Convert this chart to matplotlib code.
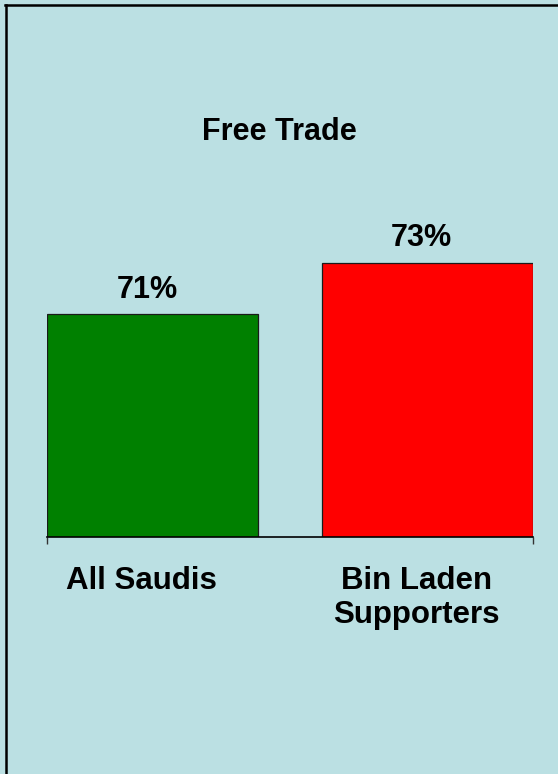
import matplotlib
matplotlib.use("Agg")
import matplotlib.pyplot as plt
from matplotlib.lines import Line2D
import matplotlib.transforms as mtransforms

categories = ["All Saudis", "Bin Laden\nSupporters"]
values = [71, 73]
value_labels = ["71%", "73%"]
colors = ["#008000", "#FF0000"]
title = "Free Trade"

W, H = 558, 774
bg = "#BBE0E3"
plt.rcParams['font.family'] = ['Liberation Sans', 'DejaVu Sans']

fig = plt.figure(figsize=(W / 100, H / 100), dpi=100, facecolor=bg)
ax = fig.add_axes([47 / W, (H - 537) / H, (533 - 47) / W, (537 - 211) / H])
ax.set_facecolor(bg)

x = list(range(len(categories)))
width = 0.77
bars = ax.bar(x, values, width=width, color=colors, edgecolor="#1a1a1a", linewidth=0.9, zorder=2)
ax.set_xlim(-width / 2, len(categories) - 1 + width / 2)
ax.set_ylim(62.37, 75)

for b, lab in zip(bars, value_labels):
    ax.annotate(lab, (b.get_x() + b.get_width() / 2, b.get_height()),
                xytext=(-4, 7), textcoords="offset points", ha="center", va="bottom",
                fontsize=22, fontweight="bold", color="black")

for s in ["top", "left", "right"]:
    ax.spines[s].set_visible(False)
ax.spines["bottom"].set_linewidth(1.2)
ax.spines["bottom"].set_zorder(3)
ax.set_yticks([])
ax.set_xticks(x)
ax.set_xticklabels(categories, fontsize=22.5, fontweight="bold", linespacing=1.15)
ax.tick_params(axis="x", which="major", length=0, pad=21)
ax.set_xticks([-width / 2, len(categories) - 1 + width / 2], minor=True)
ax.tick_params(axis="x", which="minor", length=5, width=1.0, direction="out", color="#333333")
offset = mtransforms.ScaledTranslation(-11 / 100, 0, fig.dpi_scale_trans)
for t in ax.get_xticklabels():
    t.set_transform(t.get_transform() + offset)

fig.text(279 / W, (H - 140) / H, title, ha="center", va="baseline",
         fontsize=22, fontweight="bold", color="black")

# frame border (top and left visible)
fig.add_artist(Line2D([5 / W, 1], [(H - 5) / H, (H - 5) / H], transform=fig.transFigure, color="black", linewidth=1.8))
fig.add_artist(Line2D([6 / W, 6 / W], [0, (H - 5) / H], transform=fig.transFigure, color="black", linewidth=1.8))

fig.savefig("out.png", dpi=100, facecolor=bg)
